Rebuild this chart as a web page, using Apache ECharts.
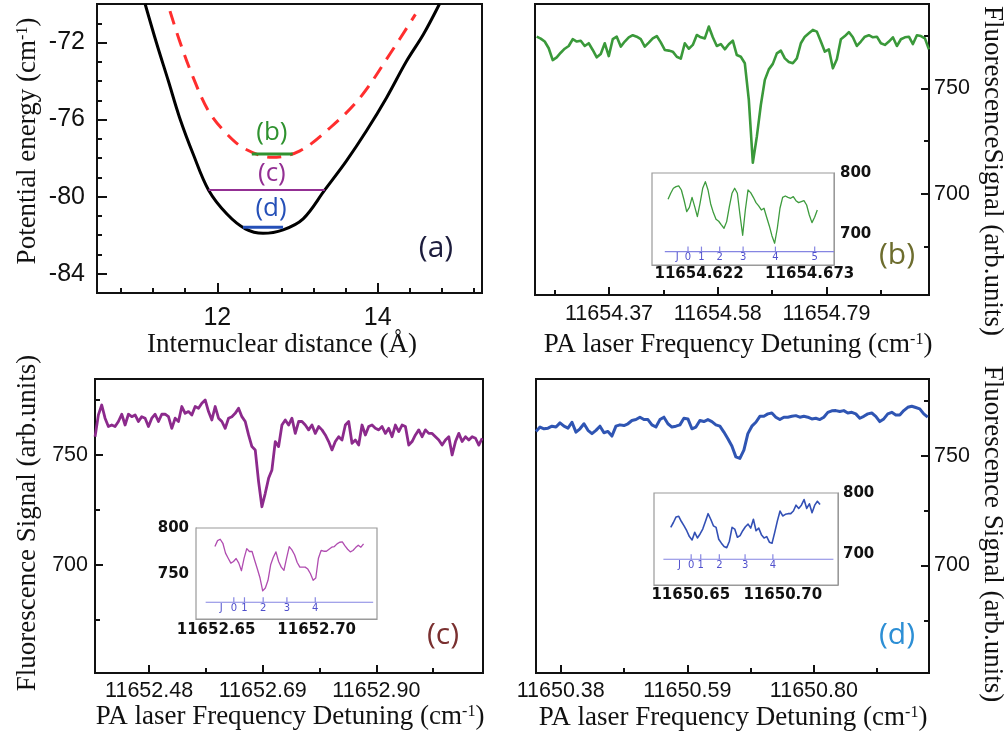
<!DOCTYPE html>
<html>
<head>
<meta charset="utf-8">
<title>PA spectra</title>
<script src="https://cdn.jsdelivr.net/npm/echarts@6.0.0/dist/echarts.min.js"></script>
<style>
  html, body { margin: 0; padding: 0; background: #fff; }
  #main { width: 1006px; height: 737px; }
</style>
</head>
<body>
<div id="main"></div>
<script>
var myChart = echarts.init(document.getElementById('main'));

// (a) potential curves
var wellR = [11.10, 11.24, 11.39, 11.53, 11.70, 11.89, 12.12, 12.35, 12.57, 12.82, 13.07, 13.34, 13.61, 13.86, 14.11, 14.36, 14.57, 14.77];
var wellE = [-70.0, -72.0, -74.0, -75.9, -77.8, -79.65, -80.9, -81.67, -81.9, -81.72, -81.15, -79.65, -78.14, -76.58, -74.86, -72.96, -71.57, -70.0];
var upperR = [11.41, 11.53, 11.70, 11.89, 12.12, 12.35, 12.68, 13.03, 13.41, 13.78, 14.15, 14.47];
var upperE = [-70.37, -71.92, -73.82, -75.55, -76.75, -77.53, -77.96, -77.62, -76.41, -74.86, -72.61, -70.54];
var levelNames = ['(b)', '(c)', '(d)'];
var levelE = [-77.79, -79.65, -81.59];
var levelFrom = [12.43, 11.89, 12.32];
var levelTo = [12.94, 13.34, 12.82];
var levelLabelR = [12.68, 12.68, 12.67];
var levelLabelE = [-76.67, -78.82, -80.64];

// (b) main scan and inset
var bStart = 11654.2303, bStep = 0.00773;
var bSignal = [774.5,773.6,772.2,769.0,763.4,764.7,766.9,768.8,770.1,773.3,
  772.2,772.6,770.1,771.4,768.2,764.7,766.3,771.4,765.3,773.3,
  774.5,769.8,772.2,774.2,775.2,774.5,773.3,769.8,771.7,773.7,
  774.8,771.8,768.2,767.9,767.4,765.0,764.1,771.4,768.8,770.6,
  775.3,774.2,773.7,779.3,774.2,770.1,771.0,768.5,770.9,772.6,
  765.8,765.0,761.9,744.5,714.7,727.1,742.1,754.0,759.0,761.6,
  766.6,767.9,764.2,762.5,761.9,764.2,771.4,774.5,776.1,777.7,
  776.9,772.2,767.4,768.5,759.5,763.8,773.3,774.8,776.7,774.2,
  770.1,772.2,774.5,775.2,774.2,774.5,771.4,770.6,772.2,774.2,
  770.1,773.3,774.2,774.5,771.0,775.2,774.8,773.7,768.5];
var ibStart = 11654.6077, ibStep = 0.0012285;
var ibSignal = [756.8,766.7,774.9,777.6,778.7,772.1,755.7,736.6,743.7,760.1,
  744.8,728.4,750.3,774.9,785.8,772.1,749.2,735.0,724.0,720.8,
  714.8,709.3,720.2,744.8,766.7,774.9,766.7,731.1,697.8,739.3,
  772.1,767.8,760.1,751.4,745.9,739.3,742.1,727.3,713.1,696.7,
  684.7,709.3,742.1,760.1,762.3,760.1,758.5,761.2,754.6,751.4,
  753.0,754.6,747.5,731.1,718.6,727.3,739.3];
var jbLine = [11654.6062, 11654.6842], jbLevel = 671;
var jbTicks = [11654.6169, 11654.6231, 11654.6315, 11654.6423, 11654.6572, 11654.6753];
var jbNames = ['0', '1', '2', '3', '4', '5'];
var jbLetter = 11654.6119;

// (c) main scan and inset
var cStart = 11652.3801, cStep = 0.006167;
var cSignal = [758.3,768.2,772.7,766.7,762.9,763.6,762.9,765.2,768.5,763.6,
  768.5,767.4,768.2,765.2,767.4,766.7,762.9,766.7,768.5,765.2,
  768.5,768.5,767.4,762.1,766.7,765.2,772.0,768.9,769.7,768.2,
  772.0,771.2,773.5,775.0,769.7,765.9,772.0,766.7,765.2,762.1,
  766.7,767.4,768.9,771.2,767.4,765.2,759.1,753.8,752.3,737.9,
  726.5,732.6,739.4,743.2,756.1,753.8,763.6,765.9,763.6,766.7,
  759.8,765.2,765.2,763.6,761.4,763.6,759.8,762.9,761.4,759.1,
  756.1,752.3,756.1,758.3,756.8,763.6,765.2,755.3,756.8,754.5,
  763.6,759.1,762.9,763.6,762.1,761.4,762.9,759.8,762.1,758.3,
  763.6,760.6,763.6,762.9,754.5,756.1,759.1,761.4,758.3,761.4,
  759.8,759.8,758.3,756.8,754.5,756.8,758.3,750.0,756.1,759.8,
  756.1,758.3,756.8,758.3,757.6,754.5,757.6];
var icStart = 11652.6494, icStep = 0.00132;
var icSignal = [779.7,786.2,787.7,783.3,772.5,767.0,761.6,763.4,766.7,761.6,
  753.3,767.0,777.5,774.3,774.3,764.5,755.1,745.3,731.2,734.4,
  742.8,759.8,768.1,773.9,763.4,757.2,753.6,767.0,779.7,776.1,
  770.7,762.3,757.2,757.2,757.2,755.1,750.0,742.8,745.3,767.0,
  775.4,774.6,774.6,776.8,779.0,779.7,782.6,784.4,784.8,780.4,
  776.8,773.9,775.4,778.6,781.2,779.0,782.6];
var jcLine = [11652.6448, 11652.7281], jcLevel = 718.8;
var jcTicks = [11652.6588, 11652.6641, 11652.6734, 11652.6852, 11652.6993];
var jcNames = ['0', '1', '2', '3', '4'];
var jcLetter = 11652.6526;

// (d) main scan and inset
var dStart = 11650.3390, dStep = 0.006632;
var dSignal = [761.1,763.1,762.3,762.6,763.5,763.1,765.0,763.5,762.6,765.3,
  760.8,762.3,764.6,761.6,760.1,761.6,763.5,760.5,761.1,759.0,
  763.5,764.1,763.8,764.6,766.1,766.5,767.6,766.5,766.5,764.1,
  763.1,766.5,767.6,764.6,763.1,763.5,764.1,767.1,766.8,762.3,
  763.1,766.1,765.6,766.5,765.6,764.1,763.5,760.8,757.8,754.5,
  749.5,748.8,752.6,760.1,763.5,765.3,768.0,768.0,769.1,769.5,
  767.6,766.5,767.6,767.6,768.0,768.3,767.6,768.0,767.6,766.8,
  767.1,766.5,767.6,769.8,770.5,770.6,770.2,770.6,769.5,769.8,
  769.1,767.1,768.0,769.1,769.5,768.0,765.6,766.8,769.1,769.8,
  768.6,768.6,770.6,772.1,772.6,772.0,771.4,769.1,767.6];
var idStart = 11650.6391, idStep = 0.001449;
var idSignal = [743.9,751.9,761.0,762.0,753.5,746.5,738.5,728.9,723.5,735.8,
  726.7,733.2,741.2,753.5,766.3,757.2,746.5,743.9,724.6,718.2,
  712.8,710.7,721.4,743.9,741.2,727.8,730.5,738.5,744.9,749.2,
  742.8,757.2,738.5,742.8,732.1,726.7,728.9,719.8,718.2,735.8,
  754.5,770.6,762.6,765.2,766.3,766.3,770.6,780.2,774.9,780.2,
  789.3,774.9,782.4,767.9,780.2,786.6,781.3];
var jdLine = [11650.6351, 11650.7275], jdLevel = 692;
var jdTicks = [11650.6502, 11650.6554, 11650.6655, 11650.6795, 11650.6946];
var jdNames = ['0', '1', '2', '3', '4'];
var jdLetter = 11650.6438;

// tick positions
var aTicksX = [12, 14], aMinorX = [10.8, 11.2, 11.6, 12.4, 12.8, 13.2, 13.6, 14.4, 14.8, 15.2];
var aTicksY = [-72, -76, -80, -84], aMinorY = [-71, -73, -74, -75, -77, -78, -79, -81, -82, -83];
var bTicksX = [11654.37, 11654.58, 11654.79], bMinorX = [11654.265, 11654.475, 11654.685, 11654.895];
var cTicksX = [11652.48, 11652.69, 11652.90], cMinorX = [11652.585, 11652.795, 11653.005];
var dTicksX = [11650.38, 11650.59, 11650.80], dMinorX = [11650.485, 11650.695, 11650.905];
var sigTicks = [700, 750], sigMinor = [675, 725, 775];
var ibTicksX = [11654.622, 11654.6475, 11654.673], ibLabelsX = [11654.622, 11654.673];
var icTicksX = [11652.65, 11652.675, 11652.70, 11652.725], icLabelsX = [11652.65, 11652.70];
var idTicksX = [11650.65, 11650.675, 11650.70, 11650.725], idLabelsX = [11650.65, 11650.70];
var ibTicksY = [700, 750, 800], ibLabelsY = [700, 800];
var icTicksY = [725, 750, 775, 800], icLabelsY = [750, 800];
var idTicksY = [700, 750, 800], idLabelsY = [700, 800];

var sans = 'Liberation Sans, Arial, sans-serif';
var serif = 'Liberation Serif, Times New Roman, serif';
var insetFont = 'DejaVu Sans, sans-serif';

// axis index of each grid's labelled axes: a, b, c, d, inset b, inset c, inset d
var axisOf = [0, 2, 4, 6, 8, 9, 10];

function scan(start, step, values) {
  return values.map(function (v, i) { return [start + i * step, v]; });
}
function pairs(xs, ys) {
  return xs.map(function (x, i) { return [x, ys[i]]; });
}

function axis(o) {
  var c = o.color || '#111', w = o.lw || 2;
  return {
    type: 'value', gridIndex: o.grid, min: o.min, max: o.max, position: o.pos,
    axisLine: { show: o.line !== false, onZero: false, lineStyle: { color: c, width: w } },
    axisTick: { show: true, inside: true, length: o.len, customValues: o.ticks, lineStyle: { color: c, width: w } },
    axisLabel: o.labels ? {
      show: true, customValues: o.labels, formatter: o.fmt, margin: o.margin,
      color: '#111', fontFamily: o.font || sans, fontSize: o.size, fontWeight: o.weight || 'normal'
    } : { show: false },
    splitLine: { show: false }
  };
}
function fix(n) { return function (v) { return v.toFixed(n); }; }
function plain(v) { return String(v); }

function curve(g, data, color, width, extra) {
  var s = {
    type: 'line', xAxisIndex: axisOf[g], yAxisIndex: axisOf[g], data: data, showSymbol: false,
    lineStyle: { color: color, width: width, join: 'round' }, silent: true, z: 3
  };
  return Object.assign(s, extra || {});
}

function jMarks(g, lineX, level, ticks, names, letterX) {
  var pts = ticks.map(function (x, i) { return { name: names[i], value: [x, level] }; });
  pts.push({ name: 'J', value: [letterX, level], symbolSize: 0, symbolOffset: [0, 0] });
  return [
    curve(g, [[lineX[0], level], [lineX[1], level]], '#8585e2', 1.2),
    {
      type: 'scatter', xAxisIndex: axisOf[g], yAxisIndex: axisOf[g], symbol: 'rect', symbolSize: [1.2, 5],
      symbolOffset: [0, -2.5], itemStyle: { color: '#8585e2', opacity: 1 }, silent: true, z: 4,
      label: { show: true, position: 'bottom', distance: 1, formatter: '{b}', fontSize: 10, fontFamily: insetFont, color: '#5050cc' },
      data: pts
    }
  ];
}

var mainGrid = { show: true, borderColor: '#111', borderWidth: 2, backgroundColor: 'transparent', containLabel: false, outerBoundsMode: 'none' };
var insetGrid = { show: true, borderColor: '#9a9a9a', borderWidth: 1.2, backgroundColor: '#fff', containLabel: false, outerBoundsMode: 'none' };

var grids = [
  Object.assign({ left: 97, top: 4, width: 385, height: 289 }, mainGrid),
  Object.assign({ left: 535, top: 4, width: 394, height: 291 }, mainGrid),
  Object.assign({ left: 95, top: 379, width: 388, height: 294 }, mainGrid),
  Object.assign({ left: 536, top: 379, width: 393, height: 294 }, mainGrid),
  Object.assign({ left: 652, top: 173, width: 182, height: 92, z: 1 }, insetGrid),
  Object.assign({ left: 196, top: 528, width: 181, height: 91, z: 1 }, insetGrid),
  Object.assign({ left: 654, top: 493, width: 184, height: 92, z: 1 }, insetGrid)
];

var inset = { color: '#9a9a9a', lw: 1, len: 3, font: insetFont, size: 15, weight: 'bold' };

var xAxes = [
  axis({ grid: 0, min: 10.5, max: 15.3, pos: 'bottom', ticks: aTicksX, len: 10, labels: aTicksX, fmt: plain, size: 25, margin: 13 }),
  axis({ grid: 0, min: 10.5, max: 15.3, pos: 'bottom', ticks: aMinorX, len: 5, line: false }),
  axis({ grid: 1, min: 11654.227, max: 11654.988, pos: 'bottom', ticks: bTicksX, len: 8, labels: bTicksX, fmt: fix(2), size: 21.5, margin: 8 }),
  axis({ grid: 1, min: 11654.227, max: 11654.988, pos: 'bottom', ticks: bMinorX, len: 5, line: false }),
  axis({ grid: 2, min: 11652.380, max: 11653.097, pos: 'bottom', ticks: cTicksX, len: 8, labels: cTicksX, fmt: fix(2), size: 21.5, margin: 7 }),
  axis({ grid: 2, min: 11652.380, max: 11653.097, pos: 'bottom', ticks: cMinorX, len: 5, line: false }),
  axis({ grid: 3, min: 11650.339, max: 11650.991, pos: 'bottom', ticks: dTicksX, len: 8, labels: dTicksX, fmt: fix(2), size: 21.5, margin: 7 }),
  axis({ grid: 3, min: 11650.339, max: 11650.991, pos: 'bottom', ticks: dMinorX, len: 5, line: false }),
  axis(Object.assign({ grid: 4, min: 11654.6003, max: 11654.6842, pos: 'bottom', ticks: ibTicksX, labels: ibLabelsX, fmt: fix(3), margin: 2 }, inset)),
  axis(Object.assign({ grid: 5, min: 11652.640, max: 11652.730, pos: 'bottom', ticks: icTicksX, labels: icLabelsX, fmt: fix(2), margin: 4 }, inset)),
  axis(Object.assign({ grid: 6, min: 11650.630, max: 11650.730, pos: 'bottom', ticks: idTicksX, labels: idLabelsX, fmt: fix(2), margin: 3 }, inset))
];

var yAxes = [
  axis({ grid: 0, min: -85, max: -70, pos: 'left', ticks: aTicksY, len: 10, labels: aTicksY, fmt: plain, size: 25, margin: 12 }),
  axis({ grid: 0, min: -85, max: -70, pos: 'left', ticks: aMinorY, len: 5, line: false }),
  axis({ grid: 1, min: 652, max: 790, pos: 'right', ticks: sigTicks, len: 8, labels: sigTicks, fmt: plain, size: 21.5, margin: 5 }),
  axis({ grid: 1, min: 652, max: 790, pos: 'right', ticks: sigMinor, len: 5, line: false }),
  axis({ grid: 2, min: 651, max: 784.5, pos: 'left', ticks: sigTicks, len: 8, labels: sigTicks, fmt: plain, size: 21.5, margin: 7 }),
  axis({ grid: 2, min: 651, max: 784.5, pos: 'left', ticks: sigMinor, len: 5, line: false }),
  axis({ grid: 3, min: 651, max: 785, pos: 'right', ticks: sigTicks, len: 8, labels: sigTicks, fmt: plain, size: 21.5, margin: 5 }),
  axis({ grid: 3, min: 651, max: 785, pos: 'right', ticks: sigMinor, len: 5, line: false }),
  axis(Object.assign({ grid: 4, min: 649, max: 800, pos: 'right', ticks: ibTicksY, labels: ibLabelsY, fmt: plain, margin: 6 }, inset)),
  axis(Object.assign({ grid: 5, min: 700.5, max: 800, pos: 'left', ticks: icTicksY, labels: icLabelsY, fmt: plain, margin: 7 }, inset)),
  axis(Object.assign({ grid: 6, min: 650, max: 800, pos: 'right', ticks: idTicksY, labels: idLabelsY, fmt: plain, margin: 5 }, inset))
];

var levelColors = ['#2f922f', '#932f93', '#2550b8'];

var series = [
  curve(0, pairs(wellR, wellE), '#000', 3, { smooth: 0.35 }),
  curve(0, pairs(upperR, upperE), '#ff2e2e', 3, { smooth: 0.35, lineStyle: { color: '#ff2e2e', width: 3, type: [14, 9] } })
];
levelE.forEach(function (e, i) {
  series.push(curve(0, [[levelFrom[i], e], [levelTo[i], e]], levelColors[i], i === 1 ? 2 : 3));
});
series.push({
  type: 'scatter', xAxisIndex: 0, yAxisIndex: 0, symbolSize: 0, silent: true, z: 5,
  itemStyle: { opacity: 1 },
  label: { show: true, position: 'inside', formatter: '{b}', fontSize: 26, fontFamily: 'Open Sans, sans-serif' },
  data: levelNames.map(function (n, i) {
    return { name: n, value: [levelLabelR[i], levelLabelE[i]], label: { color: levelColors[i] } };
  })
});

series.push(curve(1, scan(bStart, bStep, bSignal), '#3a993a', 2.6));
series.push(curve(2, scan(cStart, cStep, cSignal), '#8c2a8c', 2.8));
series.push(curve(3, scan(dStart, dStep, dSignal), '#2f55b3', 3));
series.push(curve(4, scan(ibStart, ibStep, ibSignal), '#3d9b3d', 1.3));
series.push(curve(5, scan(icStart, icStep, icSignal), '#b04cb0', 1.3));
series.push(curve(6, scan(idStart, idStep, idSignal), '#3350b5', 1.6));
series = series.concat(jMarks(4, jbLine, jbLevel, jbTicks, jbNames, jbLetter));
series = series.concat(jMarks(5, jcLine, jcLevel, jcTicks, jcNames, jcLetter));
series = series.concat(jMarks(6, jdLine, jdLevel, jdTicks, jdNames, jdLetter));

function title(text, x, y, rot) {
  return {
    type: 'text', x: x, y: y, rotation: rot || 0, z: 10, silent: true,
    style: {
      text: text, fill: '#111', fontSize: 27, fontFamily: serif, align: 'center', verticalAlign: 'middle',
      rich: { sup: { fontSize: 16, fontFamily: serif, fill: '#111', verticalAlign: 'top' } }
    }
  };
}
function tag(text, x, y, color) {
  return {
    type: 'text', x: x, y: y, z: 10, silent: true,
    style: { text: text, fill: color, fontSize: 30, fontFamily: 'Open Sans, sans-serif', align: 'center', verticalAlign: 'middle' }
  };
}

var graphics = [
  title('Internuclear distance (Å)', 282, 345),
  title('Potential energy (cm{sup|-1})', 28, 141, Math.PI / 2),
  title('PA laser Frequency Detuning (cm{sup|-1})', 738, 345),
  title('FluorescenceSignal (arb.units)', 992, 171, -Math.PI / 2),
  title('PA laser Frequency Detuning (cm{sup|-1})', 290, 717),
  title('Fluorescence Signal (arb.units)', 28, 523, Math.PI / 2),
  title('PA laser Frequency Detuning (cm{sup|-1})', 733, 718),
  title('Fluorescence Signal (arb.units)', 992, 534, -Math.PI / 2),
  tag('(a)', 436, 248, '#1c1c3c'),
  tag('(b)', 897, 255, '#6d6d2e'),
  tag('(c)', 443, 635, '#7a3030'),
  tag('(d)', 897, 635, '#2d8fd5')
];

var option = {
  animation: false,
  backgroundColor: '#fff',
  grid: grids,
  xAxis: xAxes,
  yAxis: yAxes,
  series: series,
  graphic: graphics
};

myChart.setOption(option);
</script>
</body>
</html>
